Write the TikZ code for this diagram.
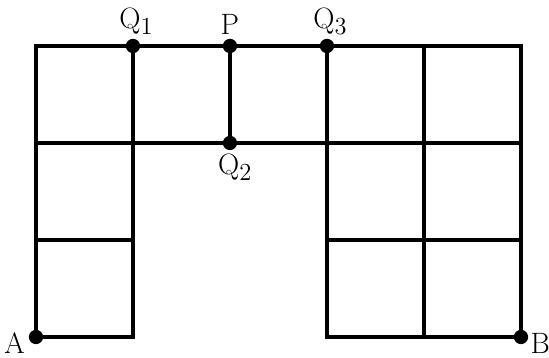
\documentclass[tikz,border=0pt]{standalone}
\usepackage{tikz}
\usetikzlibrary{positioning,calc}
\tikzset{
  grid/.style={line width=1.8pt, line cap=round},
  dot/.style={circle, fill=black, inner sep=0pt, minimum size=8.4pt},
  lbl/.style={font=\fontsize{19}{22}\selectfont, inner sep=1pt}
}
\begin{document}
\begin{tikzpicture}[x=2cm,y=2cm]
  \useasboundingbox (-0.371,-0.216) rectangle (5.289,3.474);
  % outline of the grid
  \draw[grid] (0,0) -- (0,3) -- (5,3) -- (5,0) -- (3,0) -- (3,2) -- (1,2) -- (1,0) -- cycle;
  \draw[grid] (0,2) -- (1,2);
  \draw[grid] (0,1) -- (1,1);
  \draw[grid] (1,2) -- (1,3);
  \draw[grid] (2,2) -- (2,3);
  \draw[grid] (3,2) -- (3,3);
  \draw[grid] (4,0) -- (4,3);
  \draw[grid] (3,1) -- (5,1);
  \draw[grid] (3,2) -- (5,2);
  % marked points
  \node[dot] (A)  at (0,0) {};
  \node[dot] (B)  at (5,0) {};
  \node[dot] (Q1) at (1,3) {};
  \node[dot] (P)  at (2,3) {};
  \node[dot] (Q3) at (3,3) {};
  \node[dot] (Q2) at (2,2) {};
  \node[lbl, above=1pt of Q1, xshift=2pt] (lQ1) {$\mathrm{Q}_1$};
  \node[lbl, above=1pt of P] (lP) {$\mathrm{P}$};
  \node[lbl, above=1pt of Q3, xshift=2pt] (lQ3) {$\mathrm{Q}_3$};
  \node[lbl, below=1pt of Q2, xshift=3pt] (lQ2) {$\mathrm{Q}_2$};
  \node[lbl, left=1pt of A, yshift=-4pt] (lA) {$\mathrm{A}$};
  \node[lbl, right=0pt of B, yshift=-4pt] (lB) {$\mathrm{B}$};
\end{tikzpicture}
\end{document}
